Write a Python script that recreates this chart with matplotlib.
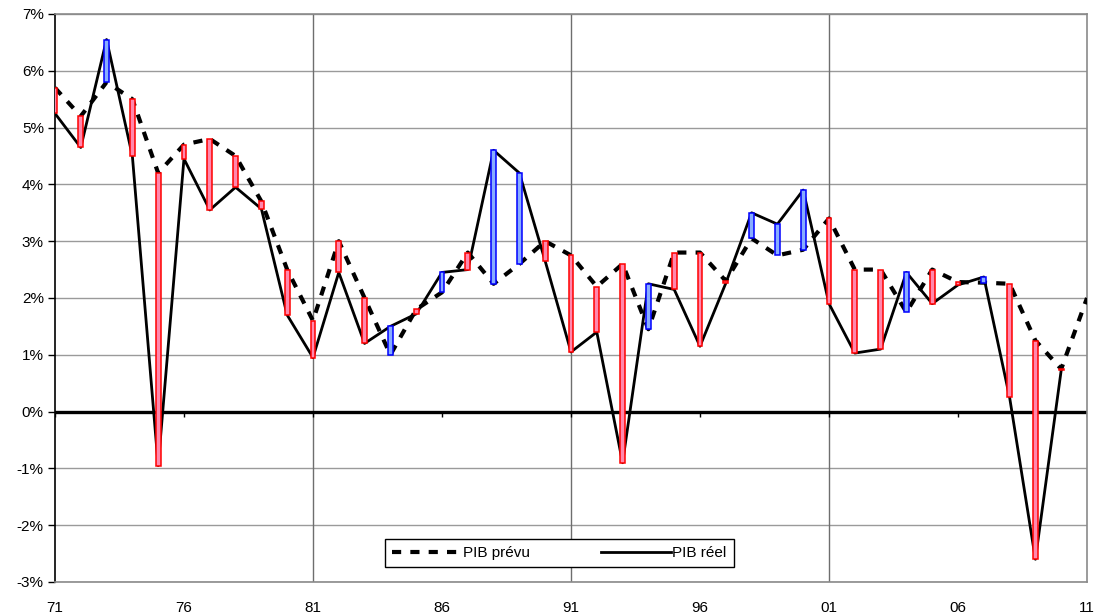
"""
PIB prévu vs PIB réel, 1971-2011, with forecast error bars.
Saves out.png
"""
import numpy as np
import matplotlib
matplotlib.use("Agg")
import matplotlib.pyplot as plt
from matplotlib.ticker import FuncFormatter

plt.rcParams["font.family"] = ["Liberation Sans", "DejaVu Sans"]

# ── Data (% growth) ───────────────────────────────────────────────────────────
years = np.arange(1971, 2012)

pib_prevu = [5.70, 5.20, 5.80, 5.50, 4.20, 4.70, 4.80, 4.50, 3.70, 2.50,
             1.60, 3.00, 2.00, 1.00, 1.80, 2.10, 2.80, 2.25, 2.60, 3.00,
             2.75, 2.20, 2.60, 1.45, 2.80, 2.80, 2.30, 3.05, 2.75, 2.85,
             3.40, 2.50, 2.50, 1.75, 2.50, 2.28, 2.27, 2.25, 1.25, 0.75,
             2.00]

pib_reel = [5.25, 4.65, 6.55, 4.50, -0.95, 4.45, 3.55, 3.95, 3.57, 1.70,
            0.95, 2.45, 1.20, 1.50, 1.72, 2.45, 2.50, 4.60, 4.20, 2.65,
            1.05, 1.40, -0.90, 2.25, 2.15, 1.15, 2.26, 3.50, 3.30, 3.90,
            1.90, 1.03, 1.10, 2.45, 1.90, 2.23, 2.37, 0.25, -2.60, 0.73,
            np.nan]

label_years = np.arange(1971, 2012, 5)
grid_years = [1981, 1991, 2001]

prevu = np.array(pib_prevu)
reel = np.array(pib_reel)

# ── Figure ────────────────────────────────────────────────────────────────────
fig = plt.figure(figsize=(10.97, 6.16), dpi=100)
ax = fig.add_axes([0.0501, 0.0552, 0.9408, 0.9221])

ax.set_xlim(1971, 2011)
ax.set_ylim(-3, 7)

# Grid
ax.set_yticks(np.arange(-3, 8, 1))
ax.yaxis.grid(True, color="#9a9a9a", linewidth=1.0)
for gy in grid_years:
    ax.axvline(gy, color="#6e6e6e", linewidth=1.0, zorder=1)
ax.axhline(0, color="black", linewidth=2.4, zorder=2)
ax.vlines(label_years, -0.09, 0, color="black", linewidth=1.0, zorder=2)
ax.set_axisbelow(True)

# Series
ax.plot(years, prevu, color="black", linewidth=3.0, linestyle=(0, (2.2, 2.2)),
        zorder=3, label="PIB prévu")
ax.plot(years, reel, color="black", linewidth=2.0, zorder=3, label="PIB réel")

# Forecast error bars: red = overestimated, blue = underestimated
ok = ~np.isnan(reel)
diff = prevu[ok] - reel[ok]
over = diff > 0
lo = np.minimum(prevu[ok], reel[ok])
ax.bar(years[ok][over], np.abs(diff[over]), bottom=lo[over], width=0.19,
       color="#ff88ad", edgecolor="#ff0000", linewidth=1.1, zorder=4)
ax.bar(years[ok][~over], np.abs(diff[~over]), bottom=lo[~over], width=0.19,
       color="#88adff", edgecolor="#0000ff", linewidth=1.1, zorder=4)

# Axes styling
ax.yaxis.set_major_formatter(FuncFormatter(lambda v, _: f"{v:.0f}%"))
ax.tick_params(axis="y", direction="out", length=5, width=1.0,
               labelsize=11, pad=3)
ax.set_xticks(label_years)
ax.set_xticklabels([f"{y % 100:02d}" for y in label_years])
ax.tick_params(axis="x", length=0, labelsize=11, pad=14)

for side in ("top", "right", "bottom"):
    ax.spines[side].set_color("#8a8a8a")
    ax.spines[side].set_linewidth(1.2)
ax.spines["left"].set_color("black")
ax.spines["left"].set_linewidth(1.2)

leg = ax.legend(loc="center", bbox_to_anchor=(0.4885, 0.051), ncol=2,
                fontsize=11, frameon=True, fancybox=False, framealpha=1,
                edgecolor="black", handlelength=4.6, columnspacing=4.6,
                borderpad=0.45, handletextpad=0.1)
leg.get_frame().set_linewidth(1.0)

fig.savefig("out.png", dpi=100)
